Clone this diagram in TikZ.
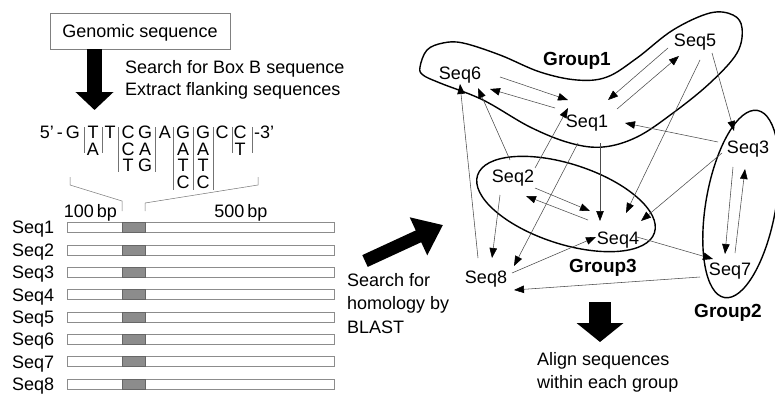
\documentclass[tikz,border=0pt]{standalone}
\usepackage{fontspec}
\setmainfont{Liberation Sans}
\usetikzlibrary{arrows.meta}
\begin{document}
\begin{tikzpicture}[x=1pt,y=-1pt,
  txt/.style={inner sep=0pt, text height=12.9pt, text depth=0pt, font=\fontsize{18}{20}\selectfont},
  grp/.style={inner sep=0pt, text height=13.6pt, text depth=0pt, font=\fontsize{19}{21}\selectfont\bfseries},
  edge/.style={draw=black!70, line width=0.55pt, -{Triangle[length=10pt,width=7.5pt,color=black]}},
  thinline/.style={draw=black!55, line width=0.5pt},
  barbox/.style={draw=black!45, fill=white, line width=0.6pt},
  boxb/.style={fill=black!45, draw=black!60, line width=0.4pt},
  grpline/.style={draw=black, line width=1.4pt},
  blockarrow/.style={draw=black, line cap=butt}
]
\useasboundingbox (0,0) rectangle (775,394);

% ---------- left part ----------
\node[txt, draw=black!50, line width=0.6pt, minimum width=180pt, minimum height=36pt] (gen) at (140,31) {Genomic sequence};
\coordinate (a1) at (94.5,110);
\draw[blockarrow, line width=15pt, -{Triangle[length=18pt,width=37pt]}] (gen.south -| a1) -- (a1);

\node[txt, anchor=west] (t1) at (125,67.5) {Search for Box B sequence};
\node[txt, anchor=west] (t2) at (125,89) {Extract flanking sequences};

% consensus
\node[txt, anchor=east] (p5) at (80,132.5) {5'\,-\,G};
\node[txt, anchor=west] (p3) at (254,132.5) {-3'};
\foreach \x/\y/\l [count=\k] in {93/132.5/T, 93/149/A, 110/132.5/T,
  128/132.5/C, 128/149/C, 128/165.5/T, 145/132.5/G, 145/149/A, 145/165.5/G,
  165/132.5/A,
  183/132.5/G, 183/149/A, 183/165.5/T, 183/182/C,
  203/132.5/G, 203/149/A, 203/165.5/T, 203/182/C,
  222/132.5/C, 240/132.5/C, 240/149/T}
  \node[txt] (L\k) at (\x,\y) {\l};
\foreach \x in {84,102,232,252} \draw[thinline] (\x,127) -- (\x,153);
\foreach \x in {118,155} \draw[thinline] (\x,127) -- (\x,172);
\foreach \x in {173,193,213} \draw[thinline] (\x,127) -- (\x,190);
% bracket
\draw[thinline] (70,177) -- (70,185) -- (122,201) -- (122,211);
\draw[thinline] (258,177) -- (258,185) -- (145,203) -- (145,211);

\node[txt] (bp1) at (90.5,211) {100\,bp};
\node[txt] (bp5) at (241,211) {500\,bp};

\foreach \i in {1,...,8} {
  \pgfmathsetmacro{\yy}{227.5+22.36*(\i-1)}
  \node[txt, anchor=west] (q\i) at (12,\yy) {Seq\i};
  \draw[barbox] (67,\yy-5) rectangle (334,\yy+5);
  \draw[boxb] (122,\yy-5) rectangle (145,\yy+5);
}

% ---------- middle ----------
\coordinate (b0) at (365,261);
\coordinate (b1) at (443,225);
\draw[blockarrow, line width=13pt, -{Triangle[length=27pt,width=40pt]}] (b0) -- (b1);
\node[txt, anchor=west] (h1) at (347,280) {Search for};
\node[txt, anchor=west] (h2) at (347,303.5) {homology by};
\node[txt, anchor=west] (h3) at (347,327) {BLAST};

% ---------- network ----------
\node[txt] (s1) at (587,121) {Seq1};
\node[txt] (s2) at (513,176) {Seq2};
\node[txt] (s3) at (748,147) {Seq3};
\node[txt] (s4) at (618,238) {Seq4};
\node[txt] (s5) at (695,40) {Seq5};
\node[txt] (s6) at (460,73) {Seq6};
\node[txt] (s7) at (730,269) {Seq7};
\node[txt] (s8) at (486,277) {Seq8};

\node[grp] (g1) at (577,59) {Group1};
\node[grp] (g3) at (603,266) {Group3};
\node[grp] (g2) at (728,311) {Group2};

\draw[grpline] plot[smooth cycle, tension=0.6] coordinates {(420,67) (427,50) (443,43) (463,43) (500,55) (540,72) (577,80) (607,77) (637,58) (673,30) (710,13) (733,15) (742,28) (737,53) (710,83) (673,113) (637,137) (603,147) (570,143) (530,127) (483,100) (440,83) (423,75)};
\draw[grpline, rotate around={-18:(566,204)}] (566,204) ellipse [x radius=93, y radius=40];
\draw[grpline, rotate around={-10:(741,204)}] (741,204) ellipse [x radius=35, y radius=95];

\foreach \a/\ax/\ay/\b/\bx/\by in {
  s6/40/4/s1/-19/-21,
  s1/-32/-13/s6/30/16,
  s1/30/-12/s5/-16/16,
  s5/-27/8/s1/21/-21,
  s5/17/13/s3/-14/-16,
  s3/-30/-5/s1/38/2,
  s2/22/-8/s1/-19/-13,
  s2/-3/-16/s6/18/15,
  s8/-8/-19/s6/0/11,
  s2/-13/19/s8/6/-19,
  s1/-9/22/s8/28/-11,
  s1/13/22/s4/-18/-17,
  s2/22/12/s4/-28/-27,
  s4/-30/-18/s2/13/20,
  s5/5/20/s4/8/-25,
  s3/-26/6/s4/23/-17,
  s8/26/-4/s4/-22/-1,
  s4/19/-1/s7/-17/-10,
  s7/-30/8/s8/28/13,
  s3/-15/20/s7/-5/-15,
  s7/5/-16/s3/-3/22}
  \draw[edge] ([shift={(\ax,\ay)}]\a.center) -- ([shift={(\bx,\by)}]\b.center);

% ---------- bottom ----------
\coordinate (c0) at (600,302);
\coordinate (c1) at (600,342);
\draw[blockarrow, line width=22pt, -{Triangle[length=19pt,width=46pt]}] (c0) -- (c1);
\node[txt, anchor=west] (al1) at (537,359.5) {Align sequences};
\node[txt, anchor=west] (al2) at (537,382) {within each group};
\end{tikzpicture}
\end{document}
